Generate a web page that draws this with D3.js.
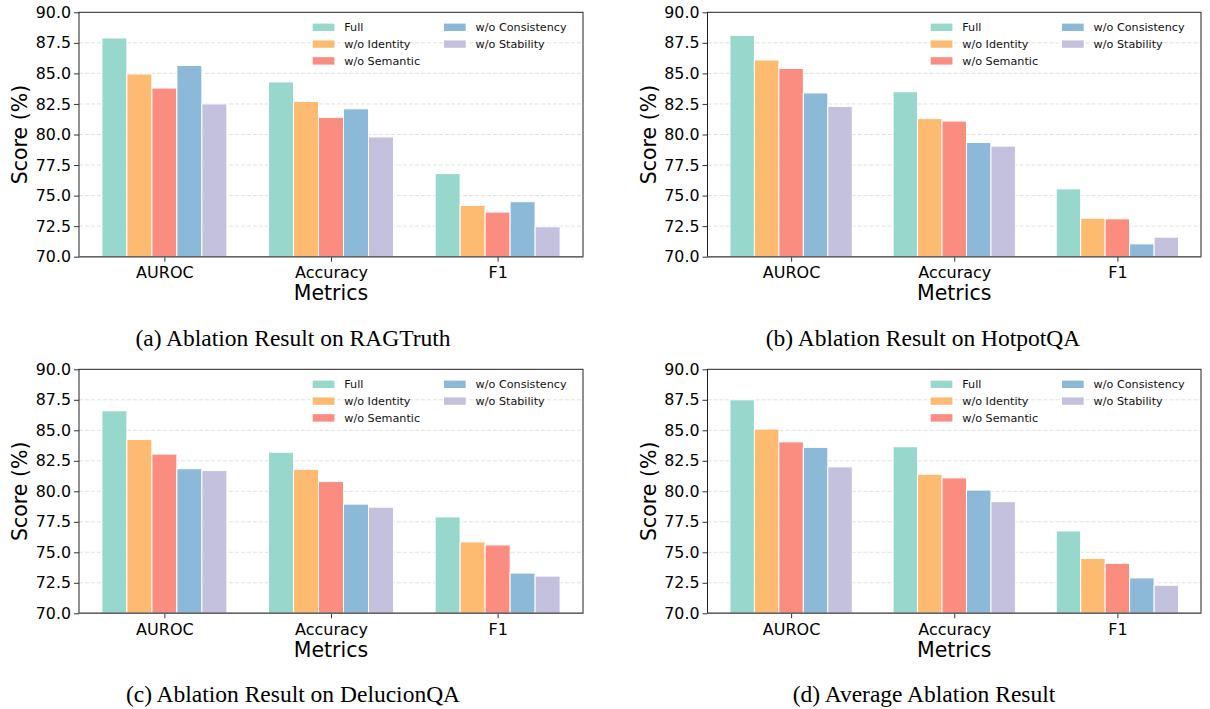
<!DOCTYPE html>
<html><head><meta charset="utf-8">
<script src="https://cdn.jsdelivr.net/npm/d3@7"></script>
<style>body{margin:0;background:#fff}svg{display:block}</style>
</head><body><svg id="c" width="1210" height="709"></svg>
<script>
const categories = ["AUROC", "Accuracy", "F1"];
const seriesNames = ["Full", "w/o Identity", "w/o Semantic", "w/o Consistency", "w/o Stability"];
const seriesColors = ["#8dd3c7", "#fdb462", "#fb8072", "#80b1d3", "#bebada"];
const yTicks = [70, 72.5, 75, 77.5, 80, 82.5, 85, 87.5, 90];
// rows = series (Full, Identity, Semantic, Consistency, Stability); columns = categories
const ragtruthValues = [
  [87.9, 84.3, 76.8],
  [84.95, 82.7, 74.2],
  [83.8, 81.4, 73.65],
  [85.65, 82.1, 74.5],
  [82.5, 79.8, 72.45]
];
const hotpotqaValues = [
  [88.1, 83.5, 75.55],
  [86.1, 81.3, 73.15],
  [85.4, 81.1, 73.1],
  [83.4, 79.35, 71.05],
  [82.3, 79.05, 71.6]
];
const delucionqaValues = [
  [86.6, 83.2, 77.9],
  [84.25, 81.8, 75.85],
  [83.05, 80.8, 75.6],
  [81.85, 78.95, 73.3],
  [81.7, 78.7, 73.05]
];
const averageValues = [
  [87.5, 83.65, 76.75],
  [85.1, 81.4, 74.5],
  [84.05, 81.1, 74.1],
  [83.6, 80.1, 72.9],
  [82.0, 79.15, 72.3]
];
const captions = [
  "(a) Ablation Result on RAGTruth",
  "(b) Ablation Result on HotpotQA",
  "(c) Ablation Result on DelucionQA",
  "(d) Average Ablation Result"
];

const panels = [
  {vals: ragtruthValues, left: 79, right: 583, top: 12.3, bottom: 256.7, cap: captions[0], capX: 293, capY: 346},
  {vals: hotpotqaValues, left: 707.5, right: 1201, top: 12.3, bottom: 256.7, cap: captions[1], capX: 923, capY: 346},
  {vals: delucionqaValues, left: 79, right: 583, top: 369.3, bottom: 613.3, cap: captions[2], capX: 293, capY: 701.5},
  {vals: averageValues, left: 707.5, right: 1201, top: 369.3, bottom: 613.3, cap: captions[3], capX: 924, capY: 701.5}
];

const svg = d3.select("#c");
const FONT = "'DejaVu Sans', sans-serif";
const barW = 0.15;

panels.forEach(p => {
  const g = svg.append("g");
  const x = d3.scaleLinear().domain([-0.5125, 2.5125]).range([p.left, p.right]);
  const y = d3.scaleLinear().domain([70, 90]).range([p.bottom, p.top]);

  // grid
  g.append("g").selectAll("line").data(yTicks.slice(1, -1)).join("line")
    .attr("x1", p.left).attr("x2", p.right)
    .attr("y1", d => y(d)).attr("y2", d => y(d))
    .attr("stroke", "#d9d9d9").attr("stroke-width", 0.8).attr("stroke-dasharray", "4,2");

  // bars
  p.vals.forEach((row, si) => {
    g.append("g").selectAll("rect").data(row).join("rect")
      .attr("x", (d, ci) => x(ci + (si - 2) * barW - barW / 2))
      .attr("width", x(barW) - x(0))
      .attr("y", d => y(d))
      .attr("height", d => y(70) - y(d))
      .attr("fill", seriesColors[si]).attr("fill-opacity", 0.9)
      .attr("stroke", "#fff").attr("stroke-width", 1);
  });

  // axes
  const yAxis = d3.axisLeft(y).tickValues(yTicks).tickFormat(d3.format(".1f")).tickSize(5).tickPadding(3);
  const ya = g.append("g").attr("transform", `translate(${p.left},0)`).call(yAxis);
  ya.select(".domain").remove();
  ya.selectAll("text").attr("font-family", FONT).attr("font-size", 15.8).attr("fill", "#000");
  ya.selectAll("line").attr("stroke", "#333");

  const xAxis = d3.axisBottom(x).tickValues([0, 1, 2]).tickFormat((d, i) => categories[i]).tickSize(5).tickPadding(5);
  const xa = g.append("g").attr("transform", `translate(0,${p.bottom})`).call(xAxis);
  xa.select(".domain").remove();
  xa.selectAll("text").attr("font-family", FONT).attr("font-size", 16).attr("fill", "#000");
  xa.selectAll("line").attr("stroke", "#333");

  // spines
  g.append("rect").attr("x", p.left).attr("y", p.top).attr("width", p.right - p.left).attr("height", p.bottom - p.top)
    .attr("fill", "none").attr("stroke", "#222").attr("stroke-width", 1);
  g.append("line").attr("x1", p.left).attr("x2", p.right).attr("y1", p.bottom).attr("y2", p.bottom)
    .attr("stroke", "#666").attr("stroke-width", 1.6);

  // labels
  g.append("text").attr("x", (p.left + p.right) / 2).attr("y", p.bottom + 43.5)
    .attr("text-anchor", "middle").attr("font-family", FONT).attr("font-size", 20.5).text("Metrics");
  g.append("text").attr("transform", `translate(${p.left - 52},${(p.top + p.bottom) / 2}) rotate(-90)`)
    .attr("text-anchor", "middle").attr("font-family", FONT).attr("font-size", 20.5).text("Score (%)");

  // legend
  const cols = [p.right - 270.3, p.right - 139];
  const rows = [15, 31.8, 48.6];
  seriesNames.forEach((name, i) => {
    const cx = cols[i < 3 ? 0 : 1];
    const cy = p.top + rows[i < 3 ? i : i - 3];
    g.append("rect").attr("x", cx).attr("y", cy - 3.7).attr("width", 21.7).attr("height", 7.4)
      .attr("fill", seriesColors[i]).attr("fill-opacity", 0.9);
    g.append("text").attr("x", cx + 31.6).attr("y", cy + 4)
      .attr("font-family", FONT).attr("font-size", 11.2).attr("fill", "#111").text(name);
  });

  // caption
  svg.append("text").attr("x", p.capX).attr("y", p.capY).attr("text-anchor", "middle")
    .attr("font-family", "'Liberation Serif', 'Times New Roman', serif").attr("font-size", 23.5).attr("fill", "#000").text(p.cap);
});
</script></body></html>
